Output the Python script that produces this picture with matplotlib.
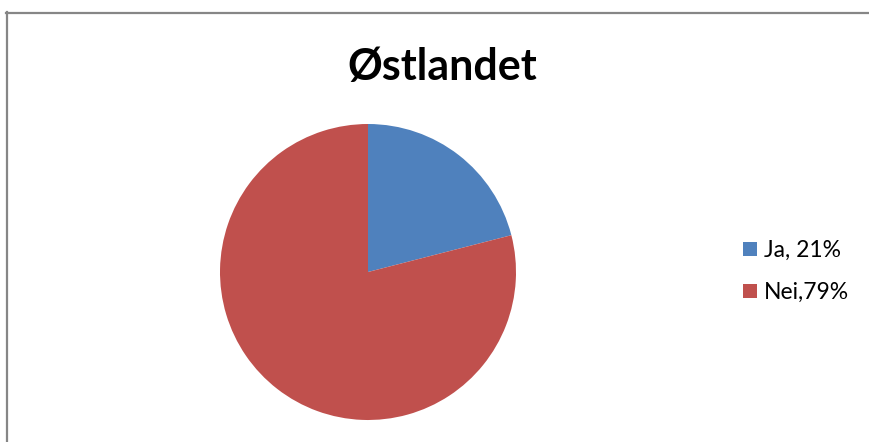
import matplotlib
matplotlib.use("Agg")
import matplotlib.pyplot as plt
from matplotlib.lines import Line2D

labels = ["Ja, 21%", "Nei,79%"]
values = [21, 79]
colors = ["#4F81BD", "#C0504D"]
title = "Østlandet"

W, H = 869, 442
fig = plt.figure(figsize=(W / 100, H / 100), dpi=100)
plt.rcParams['font.family'] = ['Lato', 'DejaVu Sans']

# border lines (top and left)
fig.add_artist(Line2D([6 / W, 1], [1 - 12.5 / H, 1 - 12.5 / H], color="#868686", lw=1.6, transform=fig.transFigure))
fig.add_artist(Line2D([6.5 / W, 6.5 / W], [1 - 12 / H, 0], color="#868686", lw=1.6, transform=fig.transFigure))

cx, cy, r = 368, 272, 148
ax = fig.add_axes([(cx - r) / W, 1 - (cy + r) / H, 2 * r / W, 2 * r / H])
wedges, _ = ax.pie(values, colors=colors, startangle=90, counterclock=False, radius=1.0)
ax.set_xlim(-1, 1)
ax.set_ylim(-1, 1)
ax.set_aspect("equal")
ax.axis("off")

fig.text(442 / W, 1 - 67 / H, title, ha="center", va="center", fontsize=31, fontweight="bold")

leg = fig.legend(wedges, labels, loc="upper left", bbox_to_anchor=(743 / W, 1 - 240 / H),
                 frameon=False, fontsize=16.5, handlelength=0.6, handleheight=0.6,
                 handletextpad=0.3, labelspacing=0.92, borderaxespad=0, borderpad=0)

fig.savefig("out.png", dpi=100)
